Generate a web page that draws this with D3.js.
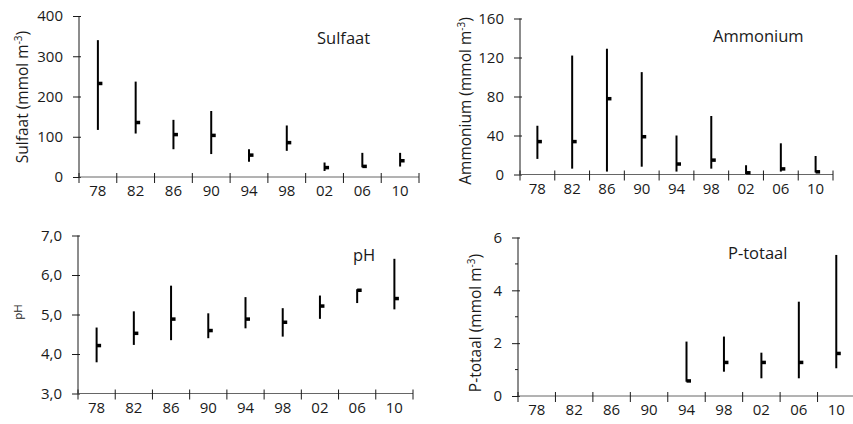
<!DOCTYPE html>
<html lang="nl">
<head>
<meta charset="UTF-8">
<title>Sulfaat, Ammonium, pH, P-totaal</title>
<style>
  body { margin: 0; background: #fff; }
  svg { display: block; font-family: "Open Sans", sans-serif; }
</style>
</head>
<body>
<div id="chart"></div>
<script src="https://d3js.org/d3.v7.min.js"></script>
<script>
// jaren (categorieen)
const years = ["78", "82", "86", "90", "94", "98", "02", "06", "10"];

// Sulfaat (mmol m-3): hoog, laag, mediaan
const sulfaatHigh  = [340, 237, 142, 164, 69, 128, 36, 60, 60];
const sulfaatLow   = [117, 108, 69, 57, 38, 65, 15, 24, 26];
const sulfaatClose = [233, 136, 106, 104, 55, 86, 24, 27, 41];

// Ammonium (mmol m-3)
const ammHigh  = [50, 122, 129, 105, 40, 60, 9.5, 32, 19];
const ammLow   = [16, 6, 3, 8, 3, 6, 0.5, 3, 2];
const ammClose = [34, 34, 78, 39, 11, 15, 2, 6, 3];

// pH
const phHigh  = [4.67, 5.08, 5.73, 5.03, 5.44, 5.16, 5.48, 5.64, 6.41];
const phLow   = [3.79, 4.23, 4.35, 4.40, 4.65, 4.44, 4.89, 5.29, 5.13];
const phClose = [4.22, 4.53, 4.89, 4.60, 4.89, 4.81, 5.22, 5.62, 5.41];

// P-totaal (mmol m-3), pas gemeten vanaf 94
const ptHigh  = [null, null, null, null, 2.06, 2.25, 1.64, 3.57, 5.34];
const ptLow   = [null, null, null, null, 0.54, 0.92, 0.67, 0.67, 1.05];
const ptClose = [null, null, null, null, 0.58, 1.28, 1.28, 1.28, 1.62];

// tick waarden
const sulfaatTicks = [0, 100, 200, 300, 400];
const ammTicks = [0, 40, 80, 120, 160];
const phTicks = [3, 4, 5, 6, 7];
const ptTicks = [0, 2, 4, 6];
const ptMinor = [1, 3, 5];

const width = 853, height = 424;
const ink = "#1a1a1a";

const svg = d3.select("#chart").append("svg")
  .attr("width", width)
  .attr("height", height);

// een paneel met hoog-laag-slot lijnen (zoals een Excel koersgrafiek)
function panel(o) {
  const g = svg.append("g");

  const x = d3.scaleBand().domain(years).range([o.x0, o.x1]).padding(0);
  const y = d3.scaleLinear().domain(o.domain).range([o.yb, o.yt]);

  // y-as
  const yAxis = g.append("g")
    .attr("transform", `translate(${o.x0},0)`)
    .call(d3.axisLeft(y).tickValues(o.ticks).tickSize(5).tickPadding(11).tickFormat(o.fmt));
  yAxis.select(".domain").attr("stroke", ink).attr("d", `M0,${o.yb}V${o.yt}`);
  yAxis.selectAll(".tick line").attr("x1", 2).attr("x2", -6).attr("stroke", ink);
  yAxis.selectAll(".tick text")
    .style("font-size", "15px")
    .style("font-family", "'Open Sans', sans-serif")
    .attr("fill", ink);

  if (o.minor) {
    g.selectAll(".minor").data(o.minor).enter().append("line")
      .attr("x1", o.x0 - 3).attr("x2", o.x0)
      .attr("y1", d => y(d)).attr("y2", d => y(d))
      .attr("stroke", ink);
  }

  // x-as met streepjes tussen de categorieen
  g.append("line")
    .attr("x1", o.x0).attr("x2", o.x1)
    .attr("y1", o.yb).attr("y2", o.yb)
    .attr("stroke", "#666").attr("stroke-width", 1);

  const bounds = years.map(d => x(d)).concat([o.x1]);
  g.selectAll(".xt").data(bounds).enter().append("line")
    .attr("x1", d => d).attr("x2", d => d)
    .attr("y1", o.yb - 4).attr("y2", o.yb + 6)
    .attr("stroke", ink);

  g.selectAll(".xl").data(years).enter().append("text")
    .attr("x", d => x(d) + x.bandwidth() / 2)
    .attr("y", o.yb + 19)
    .attr("text-anchor", "middle")
    .style("font-size", "15px")
    .attr("fill", ink)
    .text(d => d);

  // hoog-laag lijnen
  const rows = years.map((d, i) => ({ year: d, hi: o.high[i], lo: o.low[i], cl: o.close[i] }))
    .filter(d => d.hi != null);

  g.selectAll(".hl").data(rows).enter().append("line")
    .attr("x1", d => x(d.year) + x.bandwidth() / 2)
    .attr("x2", d => x(d.year) + x.bandwidth() / 2)
    .attr("y1", d => y(d.hi))
    .attr("y2", d => y(d.lo))
    .attr("stroke", "#000")
    .attr("stroke-width", 2);

  // slot-streepje rechts
  g.selectAll(".cl").data(rows).enter().append("rect")
    .attr("x", d => x(d.year) + x.bandwidth() / 2)
    .attr("y", d => y(d.cl) - 1.5)
    .attr("width", 4.5)
    .attr("height", 3.5)
    .attr("fill", "#000");

  // titel in het paneel
  g.append("text")
    .attr("x", o.tx).attr("y", o.ty)
    .style("font-size", "16.5px")
    .attr("fill", ink)
    .text(o.title);

  // y-as label
  const lab = g.append("text")
    .attr("transform", `translate(${o.lx},${o.ly}) rotate(-90)`)
    .attr("text-anchor", "middle")
    .style("font-size", o.lsize + "px")
    .attr("fill", ink);
  if (o.unit) {
    lab.append("tspan").text(o.label + " (mmol m");
    lab.append("tspan").attr("dy", -6).style("font-size", "10px").text("-3");
    lab.append("tspan").attr("dy", 6).text(")");
  } else {
    lab.text(o.label);
  }
}

panel({
  x0: 79, x1: 419, yb: 177, yt: 16, domain: [0, 400],
  ticks: sulfaatTicks, fmt: d3.format("d"),
  high: sulfaatHigh, low: sulfaatLow, close: sulfaatClose,
  title: "Sulfaat", tx: 317, ty: 44,
  label: "Sulfaat", unit: true, lx: 28, ly: 97, lsize: 15.5
});

panel({
  x0: 520, x1: 833, yb: 174.5, yt: 18.5, domain: [0, 160],
  ticks: ammTicks, fmt: d3.format("d"),
  high: ammHigh, low: ammLow, close: ammClose,
  title: "Ammonium", tx: 713, ty: 42,
  label: "Ammonium", unit: true, lx: 471, ly: 101, lsize: 15.5
});

panel({
  x0: 78, x1: 413, yb: 393.5, yt: 235.5, domain: [3, 7],
  ticks: phTicks, fmt: d => d3.format(".1f")(d).replace(".", ","),
  high: phHigh, low: phLow, close: phClose,
  title: "pH", tx: 353, ty: 261,
  label: "pH", unit: false, lx: 22, ly: 312, lsize: 11.5
});

panel({
  x0: 518, x1: 855, yb: 396, yt: 237.5, domain: [0, 6],
  ticks: ptTicks, minor: ptMinor, fmt: d3.format("d"),
  high: ptHigh, low: ptLow, close: ptClose,
  title: "P-totaal", tx: 728, ty: 259,
  label: "P-totaal", unit: true, lx: 481, ly: 323, lsize: 15.5
});
</script>
</body>
</html>
